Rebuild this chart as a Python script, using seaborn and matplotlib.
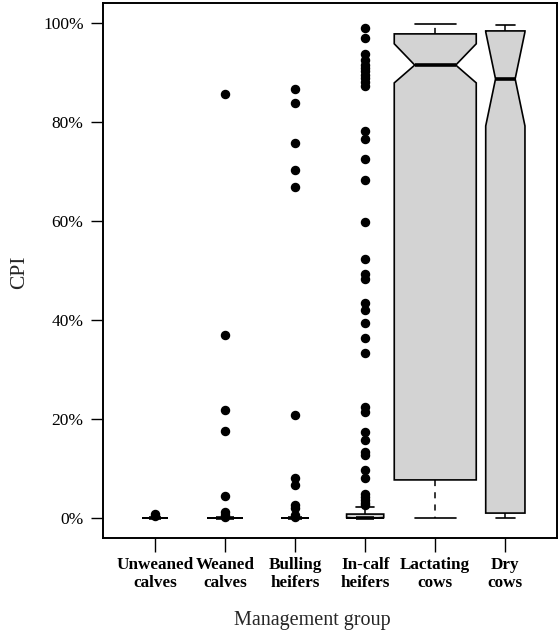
import matplotlib
matplotlib.use("Agg")
import matplotlib.pyplot as plt
import seaborn as sns
import numpy as np
from matplotlib.ticker import FuncFormatter

# ---- data (values in %) ----
groups = ["Unweaned\ncalves", "Weaned\ncalves", "Bulling\nheifers",
          "In-calf\nheifers", "Lactating\ncows", "Dry\ncows"]
q1 = [0, 0, 0, 0, 7.7, 1.0]
med = [0, 0, 0, 0, 91.5, 88.7]
q3 = [0, 0, 0, 0.8, 97.8, 98.4]
whislo = [0, 0, 0, 0, 0, 0]
whishi = [0, 0, 0, 2.3, 99.8, 99.6]
notch_lo = [0, 0, 0, 0, 87.9, 79.2]
notch_hi = [0, 0, 0, 0.1, 95.8, 98.2]
rel_width = [0.36, 0.51, 0.41, 0.53, 1.17, 0.56]

fliers_unweaned = [0.8, 0.4]
fliers_weaned = [85.6, 36.9, 21.8, 17.6, 4.5, 1.3, 0.6, 0.3]
fliers_bulling = [86.6, 83.9, 75.7, 70.4, 66.9, 20.8, 8.1, 6.7, 2.6, 2.0, 0.7, 0.3]
fliers_incalf = [98.9, 97.0, 93.7, 92.5, 91.6, 91.0, 90.3, 89.5, 88.8, 88.0, 87.2,
                 78.2, 76.5, 72.5, 68.3, 59.9, 52.4, 49.3, 48.3, 43.4, 42.1, 39.4,
                 36.4, 33.4, 22.4, 21.4, 17.4, 15.7, 13.4, 12.7, 9.7, 8.0, 4.8,
                 4.2, 3.6, 3.0, 2.6]
fliers_lactating = []
fliers_dry = []
fliers = [fliers_unweaned, fliers_weaned, fliers_bulling, fliers_incalf,
          fliers_lactating, fliers_dry]

yticks = [0, 20, 40, 60, 80, 100]

# ---- style ----
sns.set_style("ticks")
plt.rcParams["font.family"] = ["Liberation Serif", "DejaVu Serif"]

fig = plt.figure(figsize=(5.6, 6.38), dpi=100)
ax = fig.add_axes([0.184, 0.157, 0.811, 0.838])

stats = []
for i in range(len(groups)):
    stats.append(dict(med=med[i], q1=q1[i], q3=q3[i], whislo=whislo[i],
                      whishi=whishi[i], cilo=notch_lo[i], cihi=notch_hi[i],
                      fliers=np.array(fliers[i], dtype=float), label=groups[i]))

positions = np.arange(1, len(groups) + 1)
ax.bxp(stats, positions=positions, widths=rel_width, shownotches=True,
       patch_artist=True, showfliers=True,
       boxprops=dict(facecolor="#D3D3D3", edgecolor="black", linewidth=1.2),
       medianprops=dict(color="black", linewidth=2.6, solid_capstyle="butt"),
       whiskerprops=dict(color="black", linewidth=1.1, linestyle=(0, (4, 4))),
       capprops=dict(color="black", linewidth=1.2),
       flierprops=dict(marker="o", markerfacecolor="black", markeredgecolor="black",
                       markersize=5.8, linestyle="none"))

ax.set_xlim(0.26, 6.74)
ax.set_ylim(-4, 104)
ax.set_yticks(yticks)
ax.yaxis.set_major_formatter(FuncFormatter(lambda v, p: f"{int(v)}%"))
ax.set_xticks(positions)
ax.set_xticklabels(groups, fontsize=12.3, fontweight="bold", linespacing=1.15)
for lab in ax.get_yticklabels():
    lab.set_fontsize(12.5)

ax.tick_params(axis="y", length=9, width=1.0, pad=5, colors="black")
ax.tick_params(axis="x", length=10, width=1.0, pad=4, colors="black")
for s in ax.spines.values():
    s.set_visible(True)
    s.set_linewidth(1.4)
    s.set_color("black")

ax.set_ylabel("CPI", fontsize=15.5)
ax.yaxis.set_label_coords(-0.163, 0.497)
ax.set_xlabel("Management group", fontsize=14.5)
ax.xaxis.set_label_coords(0.46, -0.137)

fig.savefig("out.png", dpi=100)
